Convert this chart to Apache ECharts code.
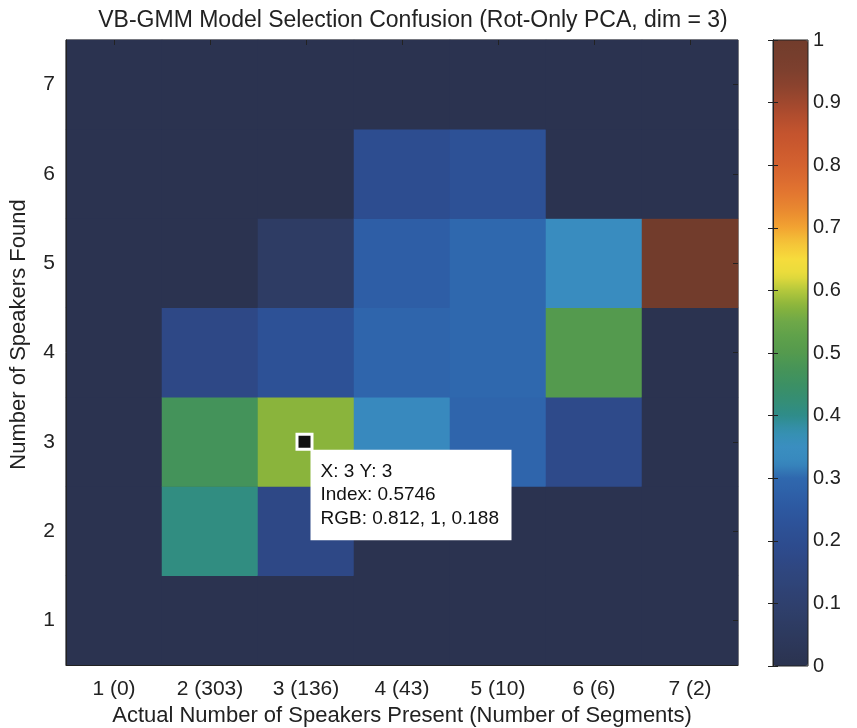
<!DOCTYPE html>
<html>
<head>
<meta charset="utf-8">
<script src="https://cdn.jsdelivr.net/npm/echarts@6/dist/echarts.min.js"></script>
<style>
html,body{margin:0;padding:0;background:#fff;}
#chart{width:857px;height:728px;}
</style>
</head>
<body>
<div id="chart"></div>
<script>
// ---- data ----
var titleText = 'VB-GMM Model Selection Confusion (Rot-Only PCA, dim = 3)';
var xName = 'Actual Number of Speakers Present (Number of Segments)';
var yName = 'Number of Speakers Found';
var xCategories = ['1 (0)', '2 (303)', '3 (136)', '4 (43)', '5 (10)', '6 (6)', '7 (2)'];
var yCategories = ['1', '2', '3', '4', '5', '6', '7'];
// fraction of segments for each actual count (column), listed by speakers found 1..7
var col1 = [0, 0, 0, 0, 0, 0, 0];
var col2 = [0, 0.41, 0.47, 0.17, 0, 0, 0];
var col3 = [0, 0.17, 0.5746, 0.22, 0.07, 0, 0];
var col4 = [0, 0, 0.33, 0.29, 0.27, 0.2, 0];
var col5 = [0, 0, 0.29, 0.3, 0.3, 0.22, 0];
var col6 = [0, 0, 0.18, 0.5, 0.34, 0, 0];
var col7 = [0, 0, 0, 0, 1, 0, 0];
var columns = [col1, col2, col3, col4, col5, col6, col7];
var cursorX = '3 (136)';
var cursorY = '3';
var cursorLines = ['X: 3 Y: 3', 'Index: 0.5746', 'RGB: 0.812, 1, 0.188'];
// colormap sampled from the colour bar, 0 to 1 in steps of 0.025
var colormap = ['#2b3350', '#2c3656', '#2d3a5e', '#2e3d66', '#2f406e', '#2f4376', '#2f467e',
  '#2e4988', '#2d4d90', '#2d5298', '#2d58a0', '#2e60a8', '#2f68ae', '#3888be', '#3a8ec0',
  '#3590b0', '#2f8c8a', '#358e74', '#3c9064', '#469458', '#549a4e', '#5ea04a', '#6ea848',
  '#8ab43c', '#b4c83c', '#e8dc3c', '#f6dc3c', '#f5c438', '#f2a432', '#ea8c30', '#e47a30',
  '#dc6c30', '#d4622f', '#cc5a2e', '#c4542e', '#b44e2e', '#a0482e', '#8c432e', '#7e402e',
  '#763e2d', '#723c2c'];

// ---- build ----
var heat = [];
columns.forEach(function (col, xi) {
  col.forEach(function (v, yi) { heat.push([xCategories[xi], yCategories[yi], v]); });
});
var FONT = 'Liberation Sans';
var INK = '#222';
function mirrorAxis(extra) {
  var a = {
    axisLine: {show: false},
    axisTick: {show: true, inside: true, alignWithLabel: true, length: 5, lineStyle: {color: INK}},
    axisLabel: {show: false}, splitLine: {show: false}, z: 10
  };
  for (var k in extra) a[k] = extra[k];
  return a;
}
var chart = echarts.init(document.getElementById('chart'), null, {renderer: 'canvas'});
chart.setOption({
  animation: false,
  backgroundColor: '#fff',
  textStyle: {fontFamily: FONT},
  title: {
    text: titleText, left: 408, top: 4, textAlign: 'center',
    textStyle: {fontFamily: FONT, fontSize: 23, fontWeight: 'normal', color: INK}
  },
  grid: [
    {left: 66, top: 40, width: 672, height: 625, show: true, borderColor: INK, borderWidth: 1,
     backgroundColor: '#2b3350', containLabel: false, outerBoundsMode: 'none'},
    {left: 773, top: 40, width: 35, height: 626, show: true, borderColor: INK, borderWidth: 1,
     backgroundColor: 'transparent', z: 10, containLabel: false, outerBoundsMode: 'none'}
  ],
  xAxis: [
    {
      type: 'category', data: xCategories, gridIndex: 0, position: 'bottom',
      name: xName, nameLocation: 'middle', nameGap: 37,
      nameTextStyle: {fontFamily: FONT, fontSize: 22, color: INK},
      axisLine: {lineStyle: {color: INK}},
      axisTick: {inside: true, alignWithLabel: true, length: 5, lineStyle: {color: INK}},
      axisLabel: {fontFamily: FONT, fontSize: 21, color: INK, margin: 14},
      splitLine: {show: false}, z: 10
    },
    {type: 'value', gridIndex: 1, show: false, min: 0, max: 1},
    mirrorAxis({type: 'category', data: xCategories, gridIndex: 0, position: 'top'})
  ],
  yAxis: [
    {
      type: 'category', data: yCategories, gridIndex: 0, position: 'left',
      name: yName, nameLocation: 'middle', nameGap: 36, nameRotate: 90,
      nameTextStyle: {fontFamily: FONT, fontSize: 22, color: INK, padding: [0, 0, 0, 36]},
      axisLine: {lineStyle: {color: INK}},
      axisTick: {inside: true, alignWithLabel: true, length: 5, lineStyle: {color: INK}},
      axisLabel: {fontFamily: FONT, fontSize: 21, color: INK, margin: 11},
      splitLine: {show: false}, z: 10
    },
    {
      type: 'value', gridIndex: 1, min: 0, max: 1, interval: 0.1, position: 'right',
      axisLine: {show: true, lineStyle: {color: INK}},
      axisTick: {show: true, inside: true, length: 5, lineStyle: {color: INK}},
      axisLabel: {fontFamily: FONT, fontSize: 20, color: INK, margin: 5},
      splitLine: {show: false}, z: 10
    },
    {
      type: 'value', gridIndex: 1, min: 0, max: 1, interval: 0.1, position: 'left',
      axisLine: {show: true, lineStyle: {color: INK}},
      axisTick: {show: true, inside: true, length: 5, lineStyle: {color: INK}},
      axisLabel: {show: false},
      splitLine: {show: false}, z: 10
    },
    mirrorAxis({type: 'category', data: yCategories, gridIndex: 0, position: 'right'})
  ],
  visualMap: {
    type: 'continuous', min: 0, max: 1, seriesIndex: 0,
    orient: 'vertical', left: 773, top: 40, padding: 0,
    itemWidth: 35, itemHeight: 626, calculable: false, showLabel: false,
    text: null, inRange: {color: colormap}, hoverLink: false
  },
  series: [
    {
      type: 'heatmap', xAxisIndex: 0, yAxisIndex: 0, data: heat,
      itemStyle: {borderWidth: 0}, emphasis: {disabled: true}
    },
    {
      type: 'scatter', xAxisIndex: 0, yAxisIndex: 0, z: 20,
      data: [[cursorX, cursorY]],
      symbol: 'rect', symbolSize: 15, symbolOffset: [-1.5, 0],
      itemStyle: {color: '#111', borderColor: '#fff', borderWidth: 3, opacity: 1},
      emphasis: {disabled: true},
      label: {
        show: true, position: [15, 17], align: 'left', verticalAlign: 'top',
        formatter: function () { return cursorLines.join('\n'); },
        fontFamily: FONT, fontSize: 19, lineHeight: 23.5, color: '#111',
        backgroundColor: '#fff', padding: [10, 10, 10, 10], width: 181, opacity: 1
      }
    }
  ]
});
</script>
</body>
</html>
